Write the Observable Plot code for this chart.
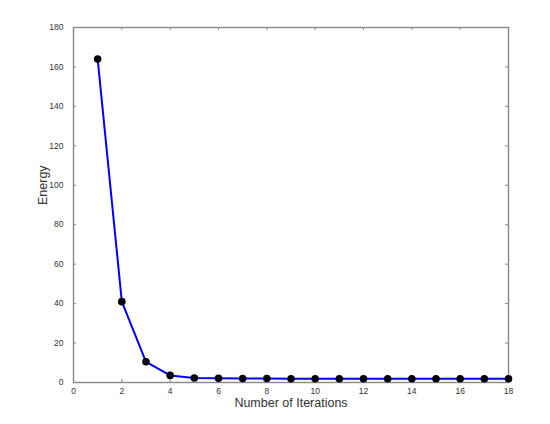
<!DOCTYPE html>
<html>
<head>
<meta charset="utf-8">
<script src="https://cdn.jsdelivr.net/npm/d3@7"></script>
<script src="https://cdn.jsdelivr.net/npm/@observablehq/plot@0.6"></script>
<style>
  html, body { margin: 0; padding: 0; background: #fff; }
  #chart svg { display: block; }
</style>
</head>
<body>
<div id="chart"></div>
<script>
const iterations = [1, 2, 3, 4, 5, 6, 7, 8, 9, 10, 11, 12, 13, 14, 15, 16, 17, 18];
const energy = [164, 41, 10.5, 3.6, 2.3, 2.1, 2.0, 2.0, 1.9, 1.9, 1.9, 1.9, 1.9, 1.9, 1.9, 1.9, 1.9, 1.9];
const xTicks = [0, 2, 4, 6, 8, 10, 12, 14, 16, 18];
const yTicks = [0, 20, 40, 60, 80, 100, 120, 140, 160, 180];
const xLabel = "Number of Iterations";
const yLabel = "Energy";

const data = iterations.map((it, i) => ({it, e: energy[i]}));
const frameColor = "#888";
const textColor = "#333";

const W = 550, H = 424, mL = 73, mR = 42, mT = 27, mB = 42;
const tickLen = 3;
const innerW = W - mL - mR, innerH = H - mT - mB;

const chart = Plot.plot({
  width: W,
  height: H,
  marginLeft: mL,
  marginRight: mR,
  marginTop: mT,
  marginBottom: mB,
  style: {fontFamily: "'Liberation Sans', Arial, Helvetica, sans-serif", background: "#fff"},
  x: {domain: [0, 18], label: null},
  y: {domain: [0, 180], label: null},
  marks: [
    // inward ticks on all four sides
    Plot.tickX(xTicks, {x: d => d, stroke: frameColor, strokeWidth: 1, insetTop: innerH - tickLen}),
    Plot.tickX(xTicks, {x: d => d, stroke: frameColor, strokeWidth: 1, insetBottom: innerH - tickLen}),
    Plot.tickY(yTicks, {y: d => d, stroke: frameColor, strokeWidth: 1, insetRight: innerW - tickLen}),
    Plot.tickY(yTicks, {y: d => d, stroke: frameColor, strokeWidth: 1, insetLeft: innerW - tickLen}),
    Plot.frame({stroke: frameColor, strokeWidth: 1.4}),
    // tick labels
    Plot.axisX({ticks: xTicks, tickSize: 0, tickPadding: 5, fontSize: 8.5, color: textColor, label: null}),
    Plot.axisY({ticks: yTicks, tickSize: 0, tickPadding: 10, fontSize: 8.5, color: textColor, label: null}),
    Plot.line(data, {x: "it", y: "e", stroke: "#0000ff", strokeWidth: 2}),
    Plot.dot(data, {x: "it", y: "e", r: 3.8, fill: "#000", stroke: "none"}),
    Plot.text([xLabel], {frameAnchor: "bottom", dy: 24, fontSize: 12.5, fill: textColor, text: d => d}),
    Plot.text([yLabel], {frameAnchor: "left", dx: -31, rotate: -90, fontSize: 12.5, fill: textColor, text: d => d})
  ]
});
document.getElementById("chart").appendChild(chart);
</script>
</body>
</html>
